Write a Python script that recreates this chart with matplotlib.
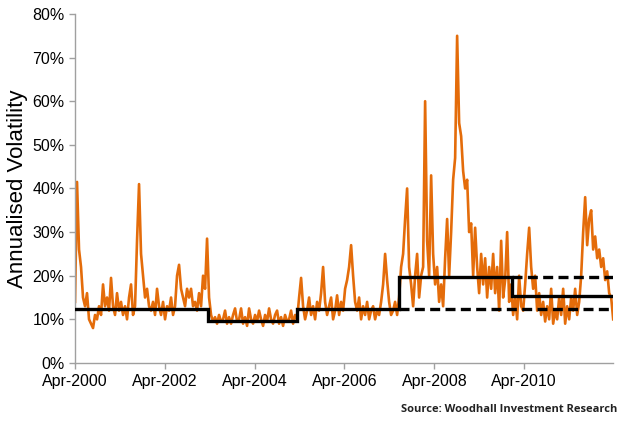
import numpy as np
import pandas as pd
import matplotlib
matplotlib.use("Agg")
import matplotlib.pyplot as plt
import matplotlib.dates as mdates
from matplotlib.ticker import FuncFormatter

plt.rcParams['font.family'] = ['Liberation Sans', 'DejaVu Sans']

# Annualised volatility (%), evenly spaced in time
vol = [
    14, 41.5, 26, 22, 15, 13, 16, 10, 9, 8,
    11, 10, 13, 11, 18, 13, 15, 12, 19.5, 13,
    11, 16, 12, 14, 11, 13, 10, 15, 18, 11,
    13, 28, 41, 25, 20, 15, 17, 13, 12, 14,
    11, 17, 13, 11, 14, 10, 13, 12, 15, 11,
    13, 20, 22.5, 17, 15, 13, 17, 15, 17, 13,
    14, 12, 16, 13, 20, 17, 28.5, 15, 11, 9.5,
    10.5, 9, 11, 9.5, 10, 12, 9, 10.5, 9, 11,
    12.5, 9.5, 10, 12.5, 9, 10.5, 8.5, 12.5, 10, 9,
    11, 9.5, 12, 10, 8.5, 11, 9.5, 12.5, 10, 9,
    11, 12, 9, 10.5, 8.5, 11, 9.5, 10, 12, 9,
    11, 10, 15, 19.5, 13, 10, 12, 15, 11, 13,
    10, 14, 12, 16, 22, 14, 11, 13, 15, 10,
    12, 15.5, 11, 14, 12, 17, 19, 22, 27, 20,
    14, 12, 15, 10, 13, 11, 14, 10, 12, 13,
    10, 12, 11, 14, 18, 25, 19, 14, 11, 12,
    14, 11, 15, 22, 25, 33, 40, 22, 18, 13,
    20, 25, 15, 20, 22, 60, 28, 20, 43, 25,
    18, 22, 14, 18, 13, 24, 33, 20, 30, 42,
    47, 75, 55, 52, 44, 40, 42, 30, 32, 20,
    31, 22, 16, 25, 18, 24, 15, 22, 17, 25,
    16, 22, 12, 28, 15, 19, 30, 14, 18, 11,
    15, 10, 20, 13, 12, 18, 25, 31, 22, 17,
    20, 12, 16, 11, 14, 9.5, 13, 10, 17, 9,
    12, 10, 15, 11, 17, 9, 13, 10, 15, 12,
    17, 11, 14, 20, 30, 38, 27, 33, 35, 26,
    29, 24, 26, 22, 24, 19, 21, 16, 15, 10,
]

start = pd.Timestamp("2000-04-01")
end = pd.Timestamp("2012-03-25")

# Regime levels (%)
regime_breaks = ["2000-04-01", "2003-03-20", "2005-03-15", "2007-06-15", "2009-12-20", "2012-03-25"]
regime_levels = [12.4, 9.6, 12.4, 19.7, 15.4]
dash_low_start, dash_low_level = "2007-06-15", 12.4
dash_high_start, dash_high_level = "2009-12-20", 19.7

xt_labels = ["Apr-2000", "Apr-2002", "Apr-2004", "Apr-2006", "Apr-2008", "Apr-2010"]
yt = [0, 10, 20, 30, 40, 50, 60, 70, 80]

dates = pd.to_datetime(np.linspace(start.value, end.value, len(vol)))

fig = plt.figure(figsize=(6.2, 4.24), dpi=100)
ax = fig.add_axes([0.121, 0.144, 0.868, 0.823])

ax.plot(dates, vol, color="#E46C0A", lw=1.9, zorder=2)

bx = pd.to_datetime(regime_breaks)
step_x = []
step_y = []
for i, lv in enumerate(regime_levels):
    step_x += [bx[i], bx[i + 1]]
    step_y += [lv, lv]
ax.plot(step_x, step_y, color="black", lw=2.4, zorder=3, solid_joinstyle="miter")
ax.plot([pd.Timestamp(dash_low_start), end], [dash_low_level] * 2, color="black",
        lw=2.4, ls=(0, (3, 1.6)), zorder=3)
ax.plot([pd.Timestamp(dash_high_start), end], [dash_high_level] * 2, color="black",
        lw=2.4, ls=(0, (3, 1.6)), zorder=3)

ax.set_xlim(start, end)
ax.set_ylim(0, 80)
ax.set_yticks(yt)
ax.yaxis.set_major_formatter(FuncFormatter(lambda v, p: f"{int(v)}%"))
ax.set_xticks(pd.to_datetime([f"{l[4:]}-04-01" for l in xt_labels]))
ax.set_xticklabels(xt_labels)

for s in ["top", "right"]:
    ax.spines[s].set_visible(False)
for s in ["left", "bottom"]:
    ax.spines[s].set_color("#A0A0A0")
    ax.spines[s].set_linewidth(1.0)
ax.tick_params(axis="both", colors="#A0A0A0", labelcolor="black", labelsize=11.5,
               length=4, width=1.0, direction="out")
ax.tick_params(axis="x", pad=4)

ax.set_ylabel("Annualised Volatility", fontsize=16)
ax.yaxis.set_label_coords(-0.088, 0.5)
fig.text(0.995, 0.022, "Source: Woodhall Investment Research", ha="right", va="bottom",
         fontsize=8, color="#222222", family=["Open Sans", "DejaVu Sans"], fontweight="bold")

fig.savefig("out.png", dpi=100)
